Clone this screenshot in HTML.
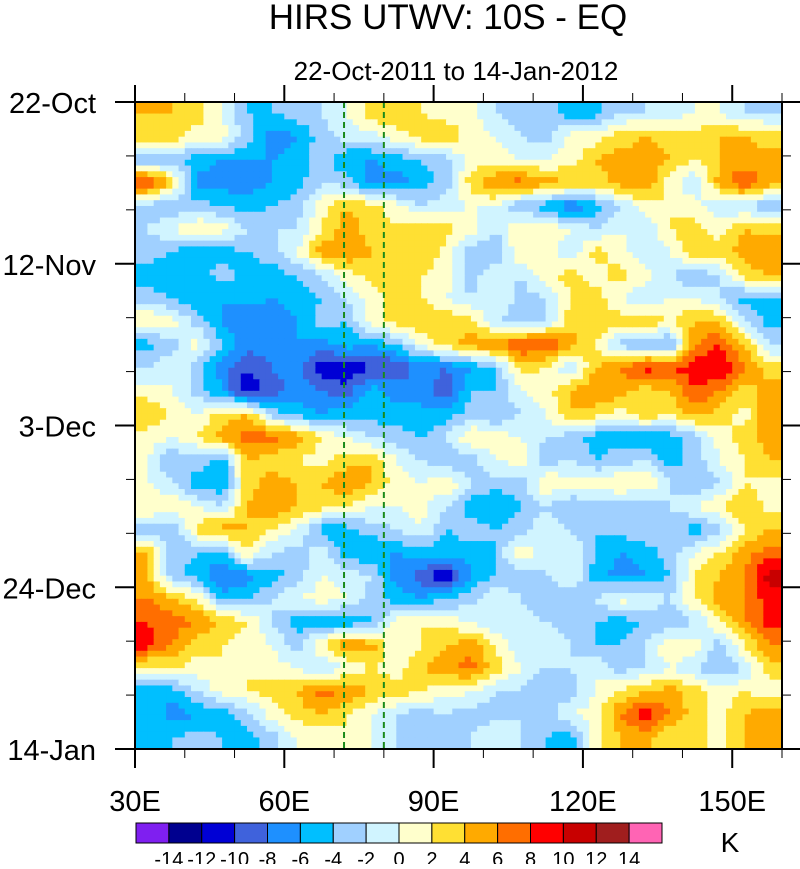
<!DOCTYPE html>
<html><head><meta charset="utf-8"><style>
body{margin:0;background:#fff;}
svg text{font-family:"Liberation Sans",sans-serif;fill:#000;}
</style></head><body>
<svg id="chart" width="800" height="864" viewBox="0 0 800 864" xmlns="http://www.w3.org/2000/svg">
<text x="448" y="29" font-size="35" text-anchor="middle">HIRS UTWV: 10S - EQ</text>
<text x="456" y="80" font-size="26" text-anchor="middle">22-Oct-2011 to 14-Jan-2012</text>
<g id="cells"></g>
<g id="axes"></g>
<g id="cbar"></g>
</svg>
<script>
const lonStart = 30, lonEnd = 160, lonStep = 5;
const dayCount = 84, rowDays = 3;
const yTickLabels = ["22-Oct","12-Nov","3-Dec","24-Dec","14-Jan"];
const yTickDays = [0,21,42,63,84];
const xTickLabels = ["30E","60E","90E","120E","150E"];
const xTickLons = [30,60,90,120,150];
const refLons = [72,80];
const levels = [-14,-12,-10,-8,-6,-4,-2,0,2,4,6,8,10,12,14];
const levelColors = ["#7f1ff0","#00008f","#0000d5","#3f62dc","#1e90ff","#00bfff","#a0d0ff","#d0f4ff","#ffffcc","#ffe033","#ffaa00","#ff6e00","#ff0000","#c80000","#a01e1e","#ff64b4"];
const field = [
[4,4,3,0,-4,-4,-3,-2,0,3,4,2,1,1,-2,-3,-3,-5,-5,-2,-2,-1,0,0,-2,-2],
[3,3,1,1,-3,-7,-6,-3,-1,-1,1,3,4,1,0,-2,-3,1,1,3,4,3,3,4,4,3],
[-4,-3,-5,-6,-6,-6,-5,-3,-6,-6,-5,-4,-3,1,1,0,0,1,4,5,5,4,2,4,5,5],
[9,3,-7,-7,-7,-6,-5,-2,-3,-7,-7,-5,-3,3,6,7,5,4,3,5,6,1,-2,5,8,5],
[-3,-4,-3,-4,-5,-4,-3,1,4,3,1,-2,-1,0,0,-4,-5,-8,-5,-2,1,2,1,-2,-2,-4],
[-2,0,2,1,-2,-2,-2,2,5,3,2,4,3,1,-2,2,2,0,-2,0,-2,2,3,1,4,3],
[-3,-4,-6,-5,-4,-3,0,5,6,4,3,4,1,-3,-4,2,1,-2,3,1,-2,0,4,3,5,6],
[-5,-6,-5,-3,-5,-5,-4,-2,1,3,3,2,1,-3,0,-2,1,3,1,3,1,-2,-4,-2,3,4],
[-3,-4,-6,-6,-5,-6,-5,-4,-2,1,3,2,0,-2,0,-3,-2,2,3,0,-2,0,0,-2,-5,-4],
[2,1,-3,-6,-8,-7,-6,-3,-4,1,3,4,4,3,-2,-3,-2,3,4,3,4,2,4,4,-2,-5],
[-5,-3,1,-4,-7,-7,-6,-7,-5,-6,-4,0,3,5,6,8,8,5,2,-3,-4,-5,6,8,4,-2],
[-2,0,-3,-7,-10,-8,-7,-11,-12,-10,-10,-7,-8,-6,-4,3,2,-2,4,6,9,8,9,10,6,3],
[1,0,-3,-6,-12,-9,-7,-8,-9,-5,-7,-6,-10,-4,-4,0,1,4,6,5,3,4,8,6,3,5],
[4,2,0,3,4,-3,-5,-6,-5,-5,-5,-6,-5,-3,-4,-2,0,4,3,1,4,2,5,3,1,6],
[1,0,2,5,7,7,5,2,0,-2,-3,-4,-2,2,1,0,-2,-3,-5,-5,-6,-5,-3,1,3,5],
[0,-4,-3,-5,4,3,2,1,3,4,0,-2,-4,-3,0,1,-3,-2,-4,-3,-2,-5,-3,0,2,4],
[0,-2,-5,-6,3,5,4,4,6,4,1,0,2,-2,-3,-3,2,1,1,2,2,-2,-4,-2,2,1],
[2,2,0,-2,4,6,4,3,2,0,0,1,-2,-5,-6,-4,-2,-4,-3,-3,-4,-2,0,2,4,1],
[-3,-4,3,5,4,2,0,-5,-5,-3,-2,0,-4,-3,-4,-3,0,-2,-4,-3,-2,-3,-5,-3,2,4],
[4,-3,-4,-5,2,-2,-3,-1,-5,-6,-6,-5,-5,-5,-4,2,-2,0,-4,-6,-5,-3,0,2,5,7],
[4,-3,-5,-8,-7,-5,-3,0,-1,-2,-7,-9,-12,-6,-4,-3,-2,0,-5,-7,-6,-4,2,4,6,11],
[6,4,2,-5,-4,-2,0,1,0,-3,-5,-6,-4,-3,0,-2,-4,-3,-2,1,0,-2,2,5,6,9],
[8,7,6,4,2,-2,-5,-5,-6,-4,1,2,1,0,-2,0,-2,-3,-4,-5,-4,-4,-2,2,6,9],
[9,6,3,2,1,0,-3,2,6,5,0,2,4,5,2,-2,0,-2,-4,-4,-2,2,1,-3,2,6],
[1,2,1,2,2,1,0,-2,0,2,1,4,5,7,3,0,-2,-2,0,-3,-2,0,-2,-4,-2,3],
[-6,-5,-2,1,2,3,4,7,6,4,3,2,1,0,-2,-2,-4,-3,0,2,4,5,3,1,2,1],
[-4,-7,-6,-5,-3,1,3,4,2,0,-2,-3,-2,-3,-3,-2,-3,0,1,6,9,6,3,1,4,5],
[-5,-4,-3,-4,-5,-3,0,0,2,0,-2,-4,-3,-2,0,-2,-4,-5,1,4,5,2,3,1,4,5]
];

const NS = "http://www.w3.org/2000/svg";
const X0 = 135, X1 = 782, Y0 = 102, Y1 = 749;
function xScale(lon){ return X0 + (lon - lonStart) / (lonEnd - lonStart) * (X1 - X0); }
function yScale(day){ return Y0 + day / dayCount * (Y1 - Y0); }
function colorFor(v){
  let i = 0;
  for (const L of levels){ if (v > L || (v >= L && L >= 0)) i++; }
  return levelColors[Math.max(0, Math.min(levelColors.length - 1, i))];
}
function mk(tag, attrs, parent){
  const e = document.createElementNS(NS, tag);
  for (const k in attrs) e.setAttribute(k, attrs[k]);
  parent.appendChild(e); return e;
}
function sample(r, c){
  const nr = field.length, nc = field[0].length;
  r = Math.max(0, Math.min(nr - 1, r)); c = Math.max(0, Math.min(nc - 1, c));
  const r0 = Math.floor(r), c0 = Math.floor(c);
  const r1 = Math.min(nr - 1, r0 + 1), c1 = Math.min(nc - 1, c0 + 1);
  const fr = r - r0, fc = c - c0;
  const a = field[r0][c0] * (1 - fc) + field[r0][c1] * fc;
  const b = field[r1][c0] * (1 - fc) + field[r1][c1] * fc;
  return a * (1 - fr) + b * fr;
}
const cells = document.getElementById("cells");
const SUB = 4;
const nRows = field.length, nCols = field[0].length;
for (let r = 0; r < nRows; r++){
  for (let c = 0; c < nCols; c++){
    for (let sr = 0; sr < SUB; sr++){
      for (let sc = 0; sc < SUB; sc++){
        const fr = r + (sr + 0.5) / SUB - 0.5, fc = c + (sc + 0.5) / SUB - 0.5;
        const v = sample(fr, fc);
        const lonA = lonStart + (c + sc / SUB) * lonStep, lonB = lonStart + (c + (sc + 1) / SUB) * lonStep;
        const dA = (r + sr / SUB) * rowDays, dB = (r + (sr + 1) / SUB) * rowDays;
        const x = xScale(lonA), y = yScale(dA);
        const rect = mk("rect", {x: x.toFixed(2), y: y.toFixed(2), width: (xScale(lonB) - x + 0.6).toFixed(2), height: (yScale(dB) - y + 0.6).toFixed(2), fill: colorFor(v)}, cells);
        
        
      }
    }
  }
}
const axes = document.getElementById("axes");
for (const lon of refLons){
  const l = mk("line", {x1: xScale(lon), x2: xScale(lon), y1: Y0, y2: Y1, stroke: "#1a8a1a", "stroke-width": 2, "stroke-dasharray": "6,4"}, axes);
  
  
}
const frame = mk("rect", {x: X0, y: Y0, width: X1 - X0, height: Y1 - Y0, fill: "none", stroke: "#000", "stroke-width": 2}, axes);


for (let d = 0; d <= dayCount; d += 7){
  const y = yScale(d);
  const major = yTickDays.includes(d);
  const t1 = mk("line", {x1: major ? X0 - 20 : X0 - 9, x2: X0, y1: y, y2: y, stroke: "#000", "stroke-width": major ? 2 : 1}, axes);
  
  
  const t2 = mk("line", {x1: X1, x2: major ? 800 : X1 + 9, y1: y, y2: y, stroke: "#000", "stroke-width": major ? 2 : 1}, axes);
  
  
}
yTickLabels.forEach((lab, i) => {
  const t = mk("text", {x: 96, y: yScale(yTickDays[i]) + 11, "font-size": 29, "text-anchor": "end"}, axes);
  t.textContent = lab;
  
  
});
for (let lon = lonStart; lon <= lonEnd; lon += 10){
  const x = xScale(lon);
  const major = xTickLons.includes(lon);
  const tb = mk("line", {x1: x, x2: x, y1: Y1, y2: Y1 + (major ? 19 : 9), stroke: "#000", "stroke-width": major ? 2 : 1}, axes);
  
  
  const tt = mk("line", {x1: x, x2: x, y1: Y0, y2: Y0 - (major ? 17 : 9), stroke: "#000", "stroke-width": major ? 2 : 1}, axes);
  
  
}
xTickLabels.forEach((lab, i) => {
  const t = mk("text", {x: xScale(xTickLons[i]), y: 811, "font-size": 29, "text-anchor": "middle"}, axes);
  t.textContent = lab;
  
  
});
const cbar = document.getElementById("cbar");
const CB0 = 136, CB1 = 662, CBY = 823, CBH = 20;
const bw = (CB1 - CB0) / levelColors.length;
levelColors.forEach((col, i) => {
  const r = mk("rect", {x: CB0 + i * bw, y: CBY, width: bw, height: CBH, fill: col, stroke: "#000", "stroke-width": 1}, cbar);
  
  
});
levels.forEach((L, i) => {
  const t = mk("text", {x: CB0 + (i + 1) * bw, y: 866, "font-size": 20, "text-anchor": "middle"}, cbar);
  t.textContent = L;
  
  
});
const k = mk("text", {x: 730, y: 852, "font-size": 28, "text-anchor": "middle"}, cbar);
k.textContent = "K";


</script>
</body></html>
